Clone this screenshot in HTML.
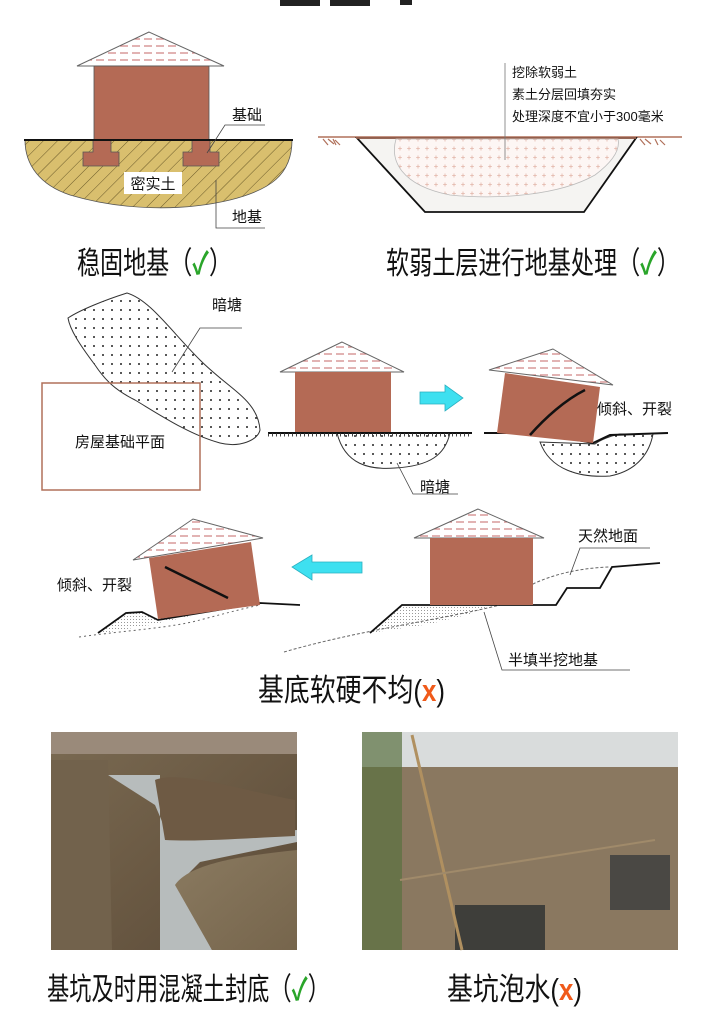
<!DOCTYPE html>
<html><head><meta charset="utf-8"><style>
html,body{margin:0;padding:0;background:#fff;}
svg{display:block;}
text{font-family:"Liberation Sans","Noto Sans CJK SC",sans-serif;}
</style></head><body>
<svg width="720" height="1026" viewBox="0 0 720 1026" xmlns="http://www.w3.org/2000/svg">
<defs>
<pattern id="hatch" width="10" height="10" patternUnits="userSpaceOnUse" patternTransform="rotate(45)">
<rect width="10" height="10" fill="#d9bf6e"/><line x1="0" y1="0" x2="0" y2="10" stroke="#6a5a2a" stroke-width="1"/></pattern>
<pattern id="dots" width="9" height="9" patternUnits="userSpaceOnUse"><rect width="9" height="9" fill="#fff"/><circle cx="4" cy="4" r="1" fill="#222"/></pattern>
<pattern id="plus" width="9" height="9" patternUnits="userSpaceOnUse"><rect width="9" height="9" fill="#fdf6f4"/><path d="M2 4.5h4M4 2.5v4" stroke="#d9a090" stroke-width="0.6"/></pattern>
<pattern id="fine" width="3" height="3" patternUnits="userSpaceOnUse"><rect width="3" height="3" fill="#fff"/><circle cx="1.5" cy="1.5" r="0.5" fill="#777"/></pattern>
<pattern id="roof" width="12" height="7" patternUnits="userSpaceOnUse"><rect width="12" height="7" fill="#fff"/><line x1="0" y1="4" x2="8" y2="4" stroke="#d08080" stroke-width="1.2"/></pattern>
<linearGradient id="soilA" x1="0" y1="0" x2="1" y2="1"><stop offset="0" stop-color="#7a6a52"/><stop offset="0.5" stop-color="#6b5a44"/><stop offset="1" stop-color="#5a4a38"/></linearGradient>
<linearGradient id="soilB" x1="0" y1="0" x2="1" y2="1"><stop offset="0" stop-color="#8a7a60"/><stop offset="1" stop-color="#76654c"/></linearGradient>
</defs>

<rect x="280" y="0" width="40" height="6" fill="#222"/><rect x="330" y="0" width="40" height="6" fill="#222"/><rect x="400" y="0" width="12" height="5" fill="#222"/>

<!-- House 1 -->
<path d="M25 140 L292 140 C292 175 270 190 230 200 C180 212 120 210 70 195 C40 185 25 165 25 140Z" fill="url(#hatch)" stroke="#555" stroke-width="0.8"/>
<polygon points="149,32 77,66 224,66" fill="url(#roof)" stroke="#666" stroke-width="1"/>
<rect x="94" y="66" width="115" height="74" fill="#b46a55" stroke="#555" stroke-width="0.8"/>
<path d="M93 140h18v12h8v14h-36v-14h10z" fill="#b46a55" stroke="#555" stroke-width="0.8"/>
<path d="M192 140h18v12h9v14h-36v-14h9z" fill="#b46a55" stroke="#555" stroke-width="0.8"/>
<line x1="24" y1="140" x2="293" y2="140" stroke="#111" stroke-width="2"/>
<rect x="124" y="172" width="58" height="22" fill="#fff"/>
<text x="153" y="189" font-size="15" text-anchor="middle" fill="#111">密实土</text>
<text x="232" y="120" font-size="15" fill="#111">基础</text>
<polyline points="207,153 225,125 265,125" fill="none" stroke="#444" stroke-width="0.8"/>
<text x="232" y="222" font-size="15" fill="#111">地基</text>
<polyline points="216,180 216,228 265,228" fill="none" stroke="#444" stroke-width="0.8"/>

<!-- trench -->
<line x1="318" y1="137" x2="682" y2="137" stroke="#b0705a" stroke-width="1.5"/>
<path d="M323 139l5 6M328 139l6 5M333 139l3 6M335 140l5 5" stroke="#b0705a" stroke-width="1.2"/>
<path d="M640 139l5 6M645 139l6 5M655 139l3 6M660 140l5 5" stroke="#b0705a" stroke-width="1.2"/>
<polygon points="357,138 636,138 584,212 425,212" fill="#f5f4f2" stroke="#111" stroke-width="1.8"/>
<line x1="356" y1="138" x2="636" y2="138" stroke="#b0705a" stroke-width="1.5"/>
<path d="M396 139 C390 160 400 185 450 195 C500 200 560 195 595 175 C615 160 620 148 618 139Z" fill="url(#plus)" stroke="#bbb" stroke-width="0.8"/>
<line x1="505" y1="63" x2="505" y2="160" stroke="#777" stroke-width="0.8"/>
<text x="512" y="77" font-size="13" fill="#111">挖除软弱土</text>
<text x="512" y="99" font-size="13" fill="#111">素土分层回填夯实</text>
<text x="512" y="121" font-size="13" fill="#111">处理深度不宜小于300毫米</text>

<text x="77" y="274" font-size="31" fill="#111" textLength="155" lengthAdjust="spacingAndGlyphs">稳固地基（<tspan fill="#2aa52a" font-weight="bold">✓</tspan>）</text>
<text x="386" y="274" font-size="31" fill="#111" textLength="294" lengthAdjust="spacingAndGlyphs">软弱土层进行地基处理（<tspan fill="#2aa52a" font-weight="bold">✓</tspan>）</text>

<!-- blob -->
<path d="M127 293 C150 300 170 330 200 360 C230 390 258 400 260 430 C258 440 240 448 220 443 C190 435 160 415 135 400 C115 390 105 380 95 365 C80 345 70 330 68 318 C80 310 105 300 127 293Z" fill="url(#dots)" stroke="#333" stroke-width="1"/>
<rect x="42" y="383" width="158" height="107" fill="none" stroke="#b0705a" stroke-width="1.5"/>
<text x="120" y="447" font-size="15" text-anchor="middle" fill="#111">房屋基础平面</text>
<text x="212" y="310" font-size="15" fill="#111">暗塘</text>
<polyline points="172,372 200,328 242,328" fill="none" stroke="#444" stroke-width="0.8"/>

<!-- house 2 -->
<path d="M337 433 C345 465 370 470 395 468 C430 466 445 455 450 433Z" fill="url(#dots)" stroke="#333" stroke-width="1"/>
<polygon points="342,342 280,372 404,372" fill="url(#roof)" stroke="#666"/>
<rect x="295" y="372" width="96" height="61" fill="#b46a55"/>
<line x1="268" y1="433" x2="472" y2="433" stroke="#111" stroke-width="2"/>
<path d="M268 435h204" stroke="#444" stroke-width="3" stroke-dasharray="1,3"/>
<polyline points="397,463 413,494 458,494" fill="none" stroke="#444" stroke-width="0.8"/>
<text x="420" y="492" font-size="15" fill="#111">暗塘</text>

<polygon points="420,392 445,392 445,385 463,398 445,411 445,404 420,404" fill="#3ee0f0" stroke="#2ab0c0" stroke-width="0.8"/>

<!-- house 3 tilted -->
<path d="M540 442 C550 470 580 478 610 476 C640 470 650 450 653 434 L620 434 C610 436 600 440 595 444Z" fill="url(#dots)" stroke="#333" stroke-width="1"/>
<line x1="484" y1="433" x2="540" y2="433" stroke="#111" stroke-width="2"/>
<polyline points="540,433 593,443 610,435 668,433" fill="none" stroke="#111" stroke-width="2"/>
<polygon points="505,373 600,387 593,443 497,433" fill="#b46a55"/>
<polygon points="553,349 489,370 613,385" fill="url(#roof)" stroke="#666"/>
<path d="M530 435 C545 418 565 400 585 390" fill="none" stroke="#111" stroke-width="2.5"/>
<text x="597" y="414" font-size="15" fill="#111">倾斜、开裂</text>

<!-- bottom right house -->
<polygon points="370,633 402,605 492,605 470,614 430,624" fill="url(#fine)"/>
<path d="M284 652 C360 630 440 620 500 605 C515 598 525 588 535 583 C560 572 585 568 609 567" fill="none" stroke="#666" stroke-width="1" stroke-dasharray="3,2"/>
<polyline points="370,633 402,605 556,605 567,588 600,588 612,567 660,563" fill="none" stroke="#111" stroke-width="1.8"/>
<polygon points="478,509 414,538 544,538" fill="url(#roof)" stroke="#666"/>
<rect x="430" y="538" width="103" height="67" fill="#b46a55"/>
<text x="578" y="541" font-size="15" fill="#111">天然地面</text>
<polyline points="570,575 580,548 650,548" fill="none" stroke="#444" stroke-width="0.8"/>
<text x="508" y="665" font-size="15" fill="#111">半填半挖地基</text>
<polyline points="484,612 502,670 630,670" fill="none" stroke="#444" stroke-width="0.8"/>

<polygon points="362,562 312,562 312,555 292,567 312,580 312,573 362,573" fill="#3ee0f0" stroke="#2ab0c0" stroke-width="0.8"/>

<!-- bottom left tilted house -->
<polygon points="98,633 126,613 142,612 158,620 200,614 150,625 110,632" fill="url(#fine)"/>
<path d="M79 637 C130 630 170 628 200 620 C230 612 250 607 260 605" fill="none" stroke="#666" stroke-width="1" stroke-dasharray="2,3"/>
<polyline points="98,633 126,613 142,612 158,620 260,603 300,605" fill="none" stroke="#111" stroke-width="1.8"/>
<polygon points="149,558 251,542 260,605 158,619" fill="#b46a55"/>
<polygon points="193,519 133,560 263,538" fill="url(#roof)" stroke="#666"/>
<line x1="165" y1="567" x2="228" y2="598" stroke="#111" stroke-width="2.5"/>
<text x="57" y="590" font-size="15" fill="#111">倾斜、开裂</text>

<text x="258" y="701" font-size="31" fill="#111" textLength="187" lengthAdjust="spacingAndGlyphs">基底软硬不均(<tspan fill="#f05a1a" font-weight="bold">x</tspan>)</text>

<!-- photo left -->
<rect x="51" y="732" width="246" height="218" fill="url(#soilA)"/>
<rect x="51" y="732" width="246" height="22" fill="#9a8a7a"/>
<path d="M108 775 L160 775 L160 950 L212 950 L177 885 L200 862 L297 842 L297 830 L170 840 L155 805 L108 775Z" fill="#b7bcbc"/>
<path d="M175 885 C190 862 250 855 297 850 L297 950 L212 950 Z" fill="url(#soilB)"/>
<path d="M155 780 C180 770 240 790 295 800 L295 836 C250 838 200 842 165 840 Z" fill="#6e5a44"/>
<path d="M51 760 L108 760 L112 950 L51 950Z" fill="#72624c"/>

<!-- photo right -->
<rect x="362" y="732" width="316" height="218" fill="#8a7860"/>
<rect x="362" y="732" width="316" height="35" fill="#d9dcdc"/>
<rect x="362" y="732" width="40" height="218" fill="#5a7040" opacity="0.7"/>
<rect x="455" y="905" width="90" height="45" fill="#3e3e3a"/>
<rect x="610" y="855" width="60" height="55" fill="#4a4844"/>
<line x1="412" y1="735" x2="462" y2="950" stroke="#b09060" stroke-width="3"/>
<line x1="400" y1="880" x2="655" y2="840" stroke="#a08a6a" stroke-width="2"/>

<text x="47" y="1000" font-size="31" fill="#111" textLength="283" lengthAdjust="spacingAndGlyphs">基坑及时用混凝土封底（<tspan fill="#2aa52a" font-weight="bold">✓</tspan>）</text>
<text x="447" y="1000" font-size="31" fill="#111" textLength="135" lengthAdjust="spacingAndGlyphs">基坑泡水(<tspan fill="#f05a1a" font-weight="bold">x</tspan>)</text>
</svg>
</body></html>
